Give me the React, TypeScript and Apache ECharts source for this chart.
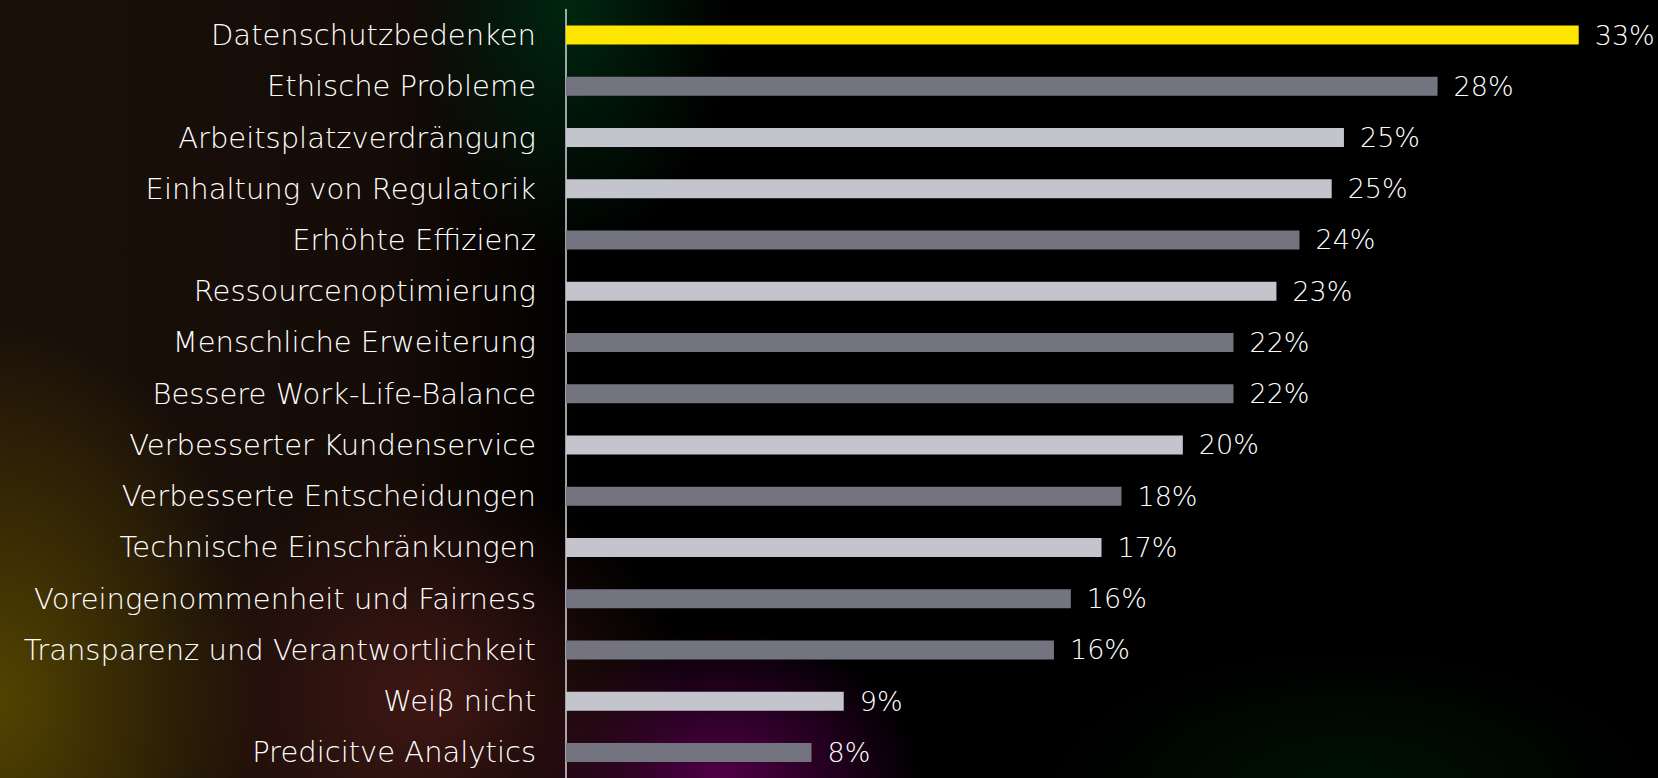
import React, { useEffect, useRef } from "react";
import * as echarts from "echarts";

const categories = [
  "Datenschutzbedenken",
  "Ethische Probleme",
  "Arbeitsplatzverdrängung",
  "Einhaltung von Regulatorik",
  "Erhöhte Effizienz",
  "Ressourcenoptimierung",
  "Menschliche Erweiterung",
  "Bessere Work-Life-Balance",
  "Verbesserter Kundenservice",
  "Verbesserte Entscheidungen",
  "Technische Einschränkungen",
  "Voreingenommenheit und Fairness",
  "Transparenz und Verantwortlichkeit",
  "Weiβ nicht",
  "Predicitve Analytics",
];

const values = [33, 28.4, 25.35, 24.95, 23.9, 23.15, 21.75, 21.75, 20.1, 18.1, 17.45, 16.45, 15.9, 9.05, 8.0];
const valueLabels = ["33%", "28%", "25%", "25%", "24%", "23%", "22%", "22%", "20%", "18%", "17%", "16%", "16%", "9%", "8%"];
const tones = ["accent", "dark", "light", "light", "dark", "light", "dark", "dark", "light", "dark", "light", "dark", "dark", "light", "dark"];

const TONE_COLORS: Record<string, string> = {
  accent: "#FFE600",
  dark: "#747480",
  light: "#C4C4CD",
};

const FONT = "'DejaVu Sans', 'Noto Sans', sans-serif";

export default function App() {
  const ref = useRef<HTMLDivElement>(null);
  useEffect(() => {
    if (!ref.current) return;
    const chart = echarts.init(ref.current, null, { renderer: "svg" });
    chart.setOption({
      animation: false,
      backgroundColor: "transparent",
      grid: { left: 566, top: 9.4, width: 1074.1, height: 773.7, containLabel: false },
      xAxis: {
        type: "value",
        min: 0,
        max: 35,
        show: false,
        splitLine: { show: false },
      },
      yAxis: {
        type: "category",
        inverse: true,
        data: categories,
        axisLine: { show: true, lineStyle: { color: "#d4d4dc", width: 1.5 } },
        axisTick: { show: false },
        axisLabel: {
          color: "#ffffff",
          fontFamily: FONT,
          fontWeight: 300,
          fontSize: 29,
          margin: 30,
          padding: [4, 0, 0, 0],
        },
      },
      series: [
        {
          type: "bar",
          barWidth: 19,
          data: values.map((v, i) => ({
            value: v,
            itemStyle: { color: TONE_COLORS[tones[i]] },
          })),
          label: {
            show: true,
            position: "right",
            distance: 16,
            color: "#ffffff",
            fontFamily: FONT,
            fontWeight: 300,
            fontSize: 27,
            padding: [4, 0, 0, 0],
            formatter: (p: any) => valueLabels[p.dataIndex],
          },
        },
      ],
    });
    return () => chart.dispose();
  }, []);

  const bg = [
    "radial-gradient(ellipse 260px 380px at 0px 700px, rgba(85,70,0,0.95), rgba(85,70,0,0) 100%)",
    "radial-gradient(ellipse 260px 220px at 430px 700px, rgba(70,25,22,0.85), rgba(70,25,22,0) 100%)",
    "radial-gradient(ellipse 200px 150px at 720px 778px, rgba(85,0,75,0.95), rgba(85,0,75,0) 100%)",
    "radial-gradient(ellipse 160px 260px at 570px 0px, rgba(0,45,18,0.85), rgba(0,45,18,0) 100%)",
    "radial-gradient(ellipse 300px 140px at 1350px 790px, rgba(0,30,5,0.6), rgba(0,30,5,0) 100%)",
    "linear-gradient(90deg, rgba(26,15,9,1) 0px, rgba(22,12,7,1) 380px, rgba(0,0,0,1) 580px)",
  ].join(", ");

  return (
    <div
      style={{
        position: "absolute",
        left: 0,
        top: 0,
        width: 1658,
        height: 778,
        background: bg,
        overflow: "hidden",
      }}
    >
      <div ref={ref} style={{ width: 1658, height: 778 }} />
    </div>
  );
}
